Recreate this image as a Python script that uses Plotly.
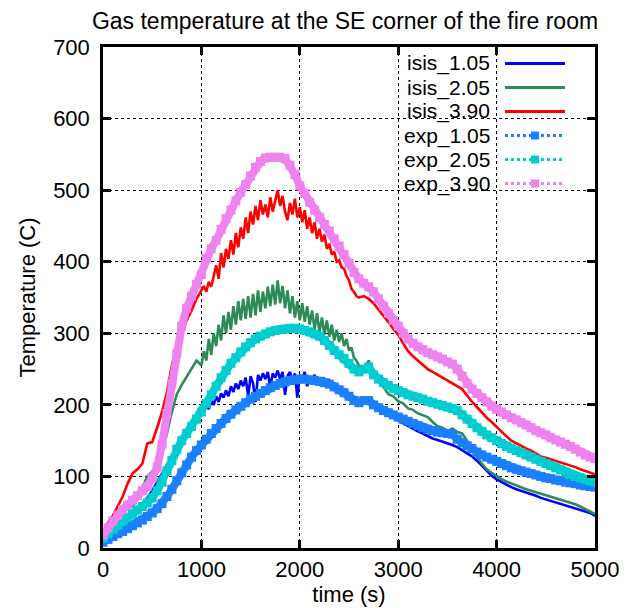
import plotly.graph_objects as go

# ---------------- data ----------------
# simulation (isis) series: finer time step in the noisy middle part
time_isis = list(range(0, 1000, 50)) + list(range(1000, 2600, 25)) + list(range(2600, 5001, 50))
# experimental series
time_exp = list(range(0, 5001, 50))

isis_105 = [12, 18, 24, 30, 36, 42, 48, 55, 62, 70, 80, 92, 104, 118, 130, 142, 152, 160, 172, 182,
            190, 196, 200, 194, 206, 200, 212, 204, 216, 210, 220, 212, 226, 218, 230, 222,
            234, 226, 238, 212, 240, 230, 204, 242, 234, 244, 236, 246, 224, 244, 238, 248,
            236, 246, 214, 240, 246, 232, 244, 210, 242, 236, 246, 226, 240, 234, 242, 230,
            238, 232, 236, 230, 234, 228, 230, 225, 226, 222, 222, 218, 216, 214, 210, 209,
            207, 206, 208, 201, 196, 193, 188, 182,
            178, 174, 170, 166, 163, 160, 156, 153, 151, 149, 147, 144, 141, 137, 133, 128, 122, 115, 108, 101,
            96, 92, 88, 85, 82, 80, 78, 76, 73, 70, 68, 66, 64, 62, 60, 58, 56, 54, 52, 49, 45]

isis_205 = [15, 25, 35, 44, 50, 55, 58, 68, 85, 100, 107, 115, 135, 160, 190, 215, 228, 240, 250, 262,
            255, 275, 262, 292, 270, 300, 282, 312, 290, 325, 300, 330, 305, 338, 312, 345,
            318, 348, 320, 352, 322, 355, 325, 360, 330, 358, 335, 365, 338, 368, 340, 374,
            342, 366, 335, 360, 328, 352, 322, 345, 318, 342, 316, 338, 312, 332, 305, 328,
            302, 322, 298, 318, 295, 312, 290, 305, 288, 300, 282, 292, 276, 280, 266, 262,
            255, 248, 262, 245, 232, 225, 215, 212,
            205, 202, 195, 193, 188, 186, 183, 176, 170, 168, 163, 167, 162, 160, 150, 138, 127, 118, 110, 105,
            100, 96, 93, 90, 87, 84, 82, 80, 78, 75, 73, 71, 69, 67, 65, 63, 61, 58, 55, 51, 47]

isis_390 = [22, 35, 45, 58, 72, 90, 104, 110, 118, 146, 148, 168, 190, 218, 255, 282, 300, 318, 332, 348,
            360, 366, 358, 372, 365, 380, 395, 376, 412, 392, 418, 404, 430, 410, 440, 420,
            448, 432, 462, 440, 470, 452, 478, 458, 486, 466, 480, 462, 490, 470, 484, 500,
            478, 492, 470, 458, 482, 466, 488, 462, 476, 455, 472, 446, 462, 440, 455, 432,
            446, 428, 438, 418, 425, 410, 414, 400, 402, 392, 390, 380, 374, 362, 358, 352,
            350, 352, 348, 342, 333, 325, 316, 306,
            298, 286, 275, 268, 262, 255, 250, 246, 242, 238, 235, 231, 227, 222, 213, 204, 197, 189, 182, 176,
            169, 162, 156, 150, 146, 142, 139, 136, 132, 128, 126, 124, 122, 120, 118, 116, 113, 110, 108, 106, 103]

exp_105 = [8, 12, 16, 20, 23, 27, 31, 35, 39, 44, 49, 55, 62, 72, 82, 94, 105, 116, 127, 136,
           144, 152, 160, 167, 174, 181, 187, 193, 198, 203, 208, 212, 216, 220, 224, 227, 230, 232, 234, 235,
           236, 236, 235, 234, 233, 231, 229, 225, 221, 217, 212, 206, 203, 206, 206, 200, 196, 192, 189, 186,
           183, 180, 177, 174, 171, 168, 166, 164, 162, 161, 160, 159, 152, 147, 143, 139, 134, 130, 127, 124,
           121, 118, 115, 112, 110, 108, 106, 104, 102, 100, 98, 97, 95, 94, 92, 91, 90, 88, 87, 86, 85]

exp_205 = [14, 20, 26, 32, 38, 43, 48, 53, 58, 63, 70, 80, 92, 108, 122, 138, 150, 160, 170, 180,
           190, 202, 214, 226, 238, 248, 258, 266, 274, 281, 287, 292, 296, 299, 302, 304, 305, 306, 307, 307,
           306, 304, 302, 299, 296, 290, 283, 276, 270, 265, 258, 250, 246, 250, 253, 242, 236, 231, 227, 223,
           220, 217, 214, 212, 210, 208, 205, 203, 201, 199, 197, 195, 192, 186, 180, 174, 168, 163, 158, 154,
           150, 146, 142, 139, 136, 133, 130, 127, 124, 121, 118, 115, 112, 109, 106, 103, 100, 98, 96, 94, 92]

exp_390 = [18, 28, 38, 46, 54, 60, 67, 73, 80, 86, 98, 113, 145, 188, 230, 272, 310, 335, 352, 368,
           382, 405, 418, 430, 445, 460, 472, 485, 497, 508, 520, 532, 540, 545, 546, 546, 546, 544, 535, 522,
           506, 495, 483, 472, 462, 452, 443, 432, 422, 410, 398, 385, 376, 370, 365, 358, 348, 338, 328, 318,
           310, 300, 292, 286, 281, 277, 273, 270, 267, 264, 260, 257, 250, 240, 230, 222, 216, 210, 204, 198,
           194, 190, 186, 182, 179, 175, 172, 168, 164, 161, 158, 154, 151, 148, 145, 142, 138, 134, 130, 127, 125]

series_names = ["isis_1.05", "isis_2.05", "isis_3.90", "exp_1.05", "exp_2.05", "exp_3.90"]
series_data = [isis_105, isis_205, isis_390, exp_105, exp_205, exp_390]
series_colors = ["#0000ff", "#2e8b57", "#ff0000", "#1a80ff", "#00cdd0", "#ee82ee"]

x_ticks = [0, 1000, 2000, 3000, 4000, 5000]
y_ticks = [0, 100, 200, 300, 400, 500, 600, 700]

# ---------------- figure ----------------
OFF = 8                       # default page body margin
W, H = 632 - OFF, 608 - OFF
L, T = 103 - OFF, 47 - OFF    # plot area in page coords: x 103..595, y 47..548
R, B = W - (595 - OFF), H - (548 - OFF)
PW, PH = W - L - R, H - T - B
FONT = "Liberation Sans, Arial, sans-serif"


def px(xw):  # page x -> paper
    return (xw - OFF - L) / PW


def py(yw):  # page y -> paper
    return (H - B - (yw - OFF)) / PH


fig = go.Figure()

for name, vals, col in zip(series_names, series_data, series_colors):
    if name.startswith("isis"):
        fig.add_trace(go.Scatter(x=time_isis, y=vals, mode="lines", name=name,
                                 line=dict(color=col, width=2.6), showlegend=False))
    else:
        fig.add_trace(go.Scatter(x=time_exp, y=vals, mode="lines+markers", name=name,
                                 line=dict(color=col, width=8),
                                 marker=dict(symbol="square", size=9, color=col),
                                 showlegend=False))

shapes = []
annotations = []
# legend background (hides grid, stays below traces & ticks)
shapes.append(dict(type="rect", xref="paper", yref="paper", x0=px(383), x1=px(578),
                   y0=py(195), y1=1, fillcolor="white", line=dict(width=0), layer="between"))

row_y = [63.5, 87.5, 111.5, 135.5, 159.5, 183.5]
for name, col, yy in zip(series_names, series_colors, row_y):
    annotations.append(dict(text=name, xref="paper", yref="paper", x=px(491), y=py(yy),
                            xanchor="right", yanchor="middle", showarrow=False, borderpad=0,
                            font=dict(family=FONT, size=21, color="black")))
    dash = "solid" if name.startswith("isis") else "dot"
    shapes.append(dict(type="line", xref="paper", yref="paper", x0=px(505), x1=px(565),
                       y0=py(yy), y1=py(yy), line=dict(color=col, width=3, dash=dash), layer="above"))
    if name.startswith("exp"):
        shapes.append(dict(type="rect", xref="paper", yref="paper", x0=px(531), x1=px(539),
                           y0=py(yy + 4), y1=py(yy - 4), fillcolor=col, line=dict(width=0),
                           layer="above"))

axis_common = dict(showline=True, linecolor="black", linewidth=2.5, mirror="ticks",
                   ticks="inside", ticklen=8, tickwidth=2.5, tickcolor="black",
                   showgrid=True, gridcolor="black", gridwidth=1.3, griddash="dot",
                   zeroline=False, tickfont=dict(family=FONT, size=22, color="black"))

fig.update_layout(
    width=W, height=H,
    margin=dict(l=L, r=R, t=T, b=B, autoexpand=False),
    paper_bgcolor="white", plot_bgcolor="white",
    title=dict(text="Gas temperature at the SE corner of the fire room",
               x=px(345), xref="paper", xanchor="center",
               y=1 - (21 - OFF) / H, yref="container", yanchor="middle",
               font=dict(family=FONT, size=23, color="black")),
    xaxis=dict(range=[0, 5000], tickvals=x_ticks, ticktext=[str(v) for v in x_ticks],
               ticklabelstandoff=0,
               title=dict(text="time (s)", font=dict(family=FONT, size=22, color="black"), standoff=0),
               **axis_common),
    yaxis=dict(range=[0, 700], tickvals=y_ticks, ticktext=[str(v) for v in y_ticks],
               ticklabelstandoff=6,
               title=dict(text="Temperature (C)", font=dict(family=FONT, size=22, color="black"), standoff=12),
               **axis_common),
    shapes=shapes,
    annotations=annotations,
    showlegend=False,
)

fig.write_html("out.html")
